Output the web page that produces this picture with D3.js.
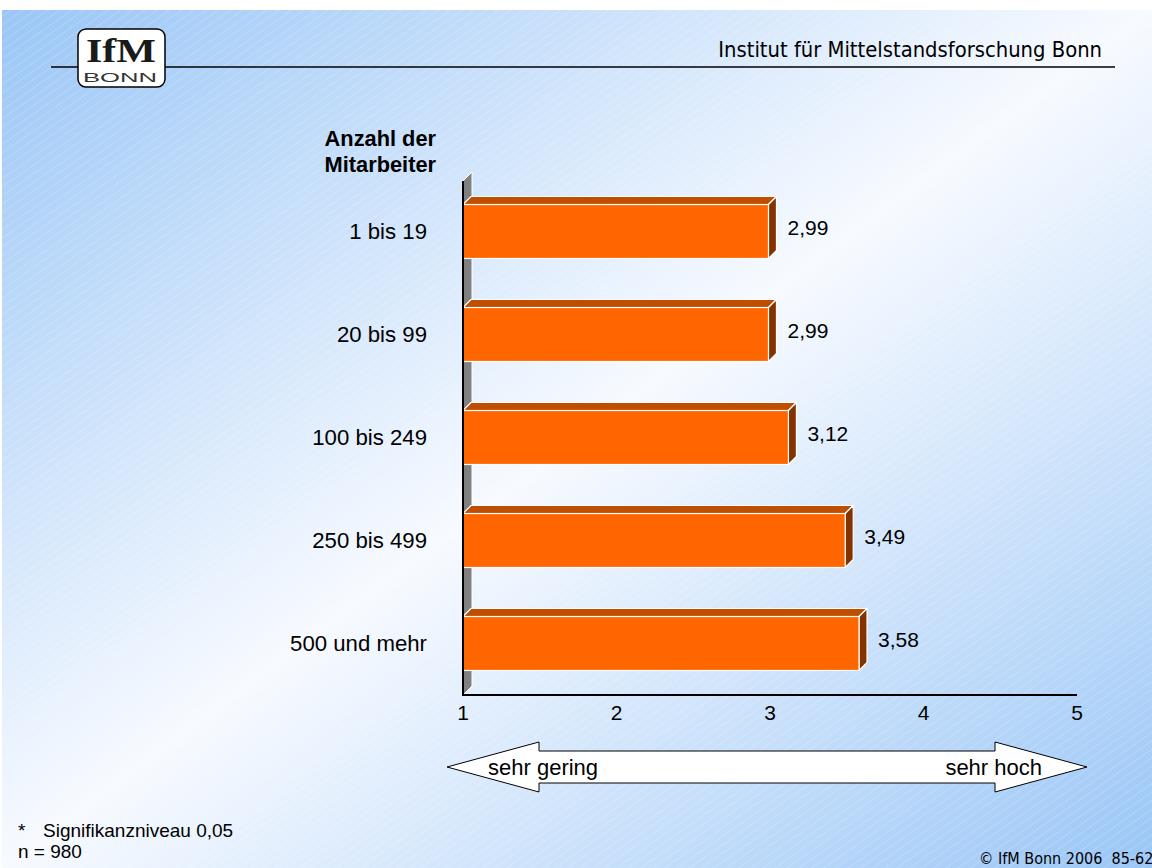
<!DOCTYPE html>
<html>
<head>
<meta charset="utf-8">
<script src="https://cdn.jsdelivr.net/npm/d3@7"></script>
<style>
  body { margin: 0; background: #fff; }
  svg { display: block; }
  .lbl { font-family: "Liberation Sans", Arial, sans-serif; fill: #000; }
  .tah { font-family: "DejaVu Sans Condensed", "DejaVu Sans", sans-serif; font-stretch: condensed; fill: #000; }
</style>
</head>
<body>
<div id="chart"></div>
<script>

// values
var categories = ["1 bis 19", "20 bis 99", "100 bis 249", "250 bis 499", "500 und mehr"];
var values = [2.99, 2.99, 3.12, 3.49, 3.58];
var valueLabels = ["2,99", "2,99", "3,12", "3,49", "3,58"];
var tickValues = [1, 2, 3, 4, 5];
var axisTitle = ["Anzahl der", "Mitarbeiter"];
var scaleEnds = ["sehr gering", "sehr hoch"];

var W = 1152, H = 868;
var depth = 8;   // 3d offset of the bars and the wall

var svg = d3.select("#chart").append("svg")
        .attr("width", W)
        .attr("height", H);

var defs = svg.append("defs");

var grad = defs.append("linearGradient")
        .attr("id", "bg")
        .attr("x1", 0).attr("y1", 0)
        .attr("x2", 1).attr("y2", 1);
grad.append("stop").attr("offset", 0).attr("stop-color", "#9ac6f6");
grad.append("stop").attr("offset", 0.5).attr("stop-color", "#f7faff");
grad.append("stop").attr("offset", 1).attr("stop-color", "#9ac6f6");

var pat = defs.append("pattern")
        .attr("id", "stripes")
        .attr("patternUnits", "userSpaceOnUse")
        .attr("width", 7)
        .attr("height", 7)
        .attr("patternTransform", "rotate(-35)");
pat.append("line")
        .attr("x1", 0).attr("y1", 0)
        .attr("x2", 7).attr("y2", 0)
        .attr("stroke", "#fff")
        .attr("stroke-opacity", 0.35)
        .attr("stroke-width", 1);

// background: white strip on top, gradient with fine stripes below
svg.append("rect")
        .attr("x", 2).attr("y", 10)
        .attr("width", W - 2).attr("height", H - 10)
        .attr("fill", "url(#bg)");
svg.append("rect")
        .attr("x", 2).attr("y", 10)
        .attr("width", W - 2).attr("height", H - 10)
        .attr("fill", "url(#stripes)");

// header line, title and logo
svg.append("line")
        .attr("x1", 51).attr("x2", 1115)
        .attr("y1", 67).attr("y2", 67)
        .attr("stroke", "#000")
        .attr("stroke-width", 1.5);

svg.append("text")
        .attr("class", "tah")
        .attr("x", 1102)
        .attr("y", 57)
        .attr("text-anchor", "end")
        .attr("font-size", 21.8)
        .text("Institut für Mittelstandsforschung Bonn");

var logo = svg.append("g");
logo.append("rect")
        .attr("x", 78).attr("y", 29)
        .attr("width", 87).attr("height", 58)
        .attr("rx", 8)
        .attr("fill", "#fff")
        .attr("stroke", "#000")
        .attr("stroke-width", 1.5);
logo.append("text")
        .attr("x", 121)
        .attr("y", 62)
        .attr("text-anchor", "middle")
        .attr("font-family", "'Liberation Serif', 'DejaVu Serif', serif")
        .attr("font-size", 33)
        .attr("font-weight", "bold")
        .attr("textLength", 70)
        .attr("lengthAdjust", "spacingAndGlyphs")
        .attr("fill", "#1a1a1a")
        .text("IfM");
logo.append("text")
        .attr("x", 120)
        .attr("y", 82)
        .attr("text-anchor", "middle")
        .attr("font-family", "'Liberation Sans', Arial, sans-serif")
        .attr("font-size", 12)
        .attr("textLength", 74)
        .attr("lengthAdjust", "spacingAndGlyphs")
        .attr("fill", "#333")
        .text("BONN");

// scales
var x = d3.scaleLinear()
        .domain([1, 5])
        .range([463, 1077]);

var y = d3.scaleBand()
        .domain(categories)
        .range([180, 695])
        .paddingInner(0.476)
        .paddingOuter(0.238);

var x0 = x.range()[0], yTop = y.range()[0], yBot = y.range()[1];

// grey back wall
svg.append("path")
        .attr("d", "M" + x0 + "," + (yTop + 1) +
                   "L" + (x0 + depth + 1) + "," + (yTop - depth) +
                   "L" + (x0 + depth + 1) + "," + (yBot - depth - 1) +
                   "L" + x0 + "," + yBot + "Z")
        .attr("fill", "#808080")
        .attr("stroke", "#fff")
        .attr("stroke-width", 1);

// bars: top, side, front
var bars = svg.selectAll("g.bar")
        .data(values)
        .enter().append("g")
        .attr("class", "bar");

bars.append("path")
        .attr("d", function (d, i) {
            var y0 = y(categories[i]), x1 = x(d);
            return "M" + x0 + "," + y0 + "L" + (x0 + depth) + "," + (y0 - depth) +
                   "L" + (x1 + depth) + "," + (y0 - depth) + "L" + x1 + "," + y0 + "Z";
        })
        .attr("fill", "#c04e00")
        .attr("stroke", "#fff")
        .attr("stroke-width", 1.2)
        .attr("stroke-linejoin", "round");

bars.append("path")
        .attr("d", function (d, i) {
            var y0 = y(categories[i]), y1 = y0 + y.bandwidth(), x1 = x(d);
            return "M" + x1 + "," + y0 + "L" + (x1 + depth) + "," + (y0 - depth) +
                   "L" + (x1 + depth) + "," + (y1 - depth) + "L" + x1 + "," + y1 + "Z";
        })
        .attr("fill", "#843300")
        .attr("stroke", "#fff")
        .attr("stroke-width", 1.2)
        .attr("stroke-linejoin", "round");

bars.append("rect")
        .attr("x", x0)
        .attr("y", function (d, i) { return y(categories[i]); })
        .attr("width", function (d) { return x(d) - x0; })
        .attr("height", y.bandwidth())
        .attr("fill", "#ff6600")
        .attr("stroke", "#fff")
        .attr("stroke-width", 1.2);

// value labels
bars.append("text")
        .attr("class", "lbl")
        .attr("x", function (d) { return x(d) + depth + 11; })
        .attr("y", function (d, i) { return y(categories[i]) + y.bandwidth() / 2 - 4; })
        .attr("dy", "0.35em")
        .attr("font-size", 21)
        .text(function (d, i) { return valueLabels[i]; });

// axes lines
svg.append("line")
        .attr("x1", x0).attr("x2", x0)
        .attr("y1", yTop + 1).attr("y2", yBot)
        .attr("stroke", "#000")
        .attr("stroke-width", 2);
svg.append("line")
        .attr("x1", x0 - 1).attr("x2", x(5))
        .attr("y1", yBot).attr("y2", yBot)
        .attr("stroke", "#000")
        .attr("stroke-width", 2);

// tick labels
svg.selectAll("text.tick")
        .data(tickValues)
        .enter().append("text")
        .attr("class", "lbl tick")
        .attr("x", function (d) { return x(d); })
        .attr("y", 720)
        .attr("text-anchor", "middle")
        .attr("font-size", 21)
        .text(function (d) { return d; });

// category labels
svg.selectAll("text.cat")
        .data(categories)
        .enter().append("text")
        .attr("class", "lbl cat")
        .attr("x", 427)
        .attr("y", function (d) { return y(d) + y.bandwidth() / 2; })
        .attr("dy", "0.35em")
        .attr("text-anchor", "end")
        .attr("font-size", 22.2)
        .text(function (d) { return d; });

svg.selectAll("text.ytitle")
        .data(axisTitle)
        .enter().append("text")
        .attr("class", "lbl ytitle")
        .attr("x", 436)
        .attr("y", function (d, i) { return 146 + i * 26; })
        .attr("text-anchor", "end")
        .attr("font-size", 21.8)
        .attr("font-weight", "bold")
        .text(function (d) { return d; });

// double arrow under the axis
var ay = 767, ax0 = x(1) - 16, ax1 = x(5) + 10, head = 92;
var arrow = [
    [ax0, ay], [ax0 + head, ay - 25], [ax0 + head, ay - 16], [ax1 - head, ay - 16],
    [ax1 - head, ay - 25], [ax1, ay], [ax1 - head, ay + 25], [ax1 - head, ay + 16],
    [ax0 + head, ay + 16], [ax0 + head, ay + 25]
];
svg.append("path")
        .attr("d", d3.line()(arrow) + "Z")
        .attr("fill", "#fff")
        .attr("stroke", "#000")
        .attr("stroke-width", 1);

svg.append("text")
        .attr("class", "lbl")
        .attr("x", 488)
        .attr("y", 775)
        .attr("font-size", 22)
        .text(scaleEnds[0]);
svg.append("text")
        .attr("class", "lbl")
        .attr("x", 1042)
        .attr("y", 775)
        .attr("text-anchor", "end")
        .attr("font-size", 22)
        .text(scaleEnds[1]);

// footnotes
svg.append("text")
        .attr("class", "lbl")
        .attr("x", 18).attr("y", 837)
        .attr("font-size", 19)
        .text("*");
svg.append("text")
        .attr("class", "lbl")
        .attr("x", 43).attr("y", 837)
        .attr("font-size", 19)
        .text("Signifikanzniveau 0,05");
svg.append("text")
        .attr("class", "lbl")
        .attr("x", 18).attr("y", 858)
        .attr("font-size", 19)
        .text("n = 980");

svg.append("text")
        .attr("class", "tah")
        .attr("x", 979).attr("y", 864)
        .attr("font-size", 16)
        .style("white-space", "pre")
        .text("© IfM Bonn 2006  85-62");

</script>
</body>
</html>
